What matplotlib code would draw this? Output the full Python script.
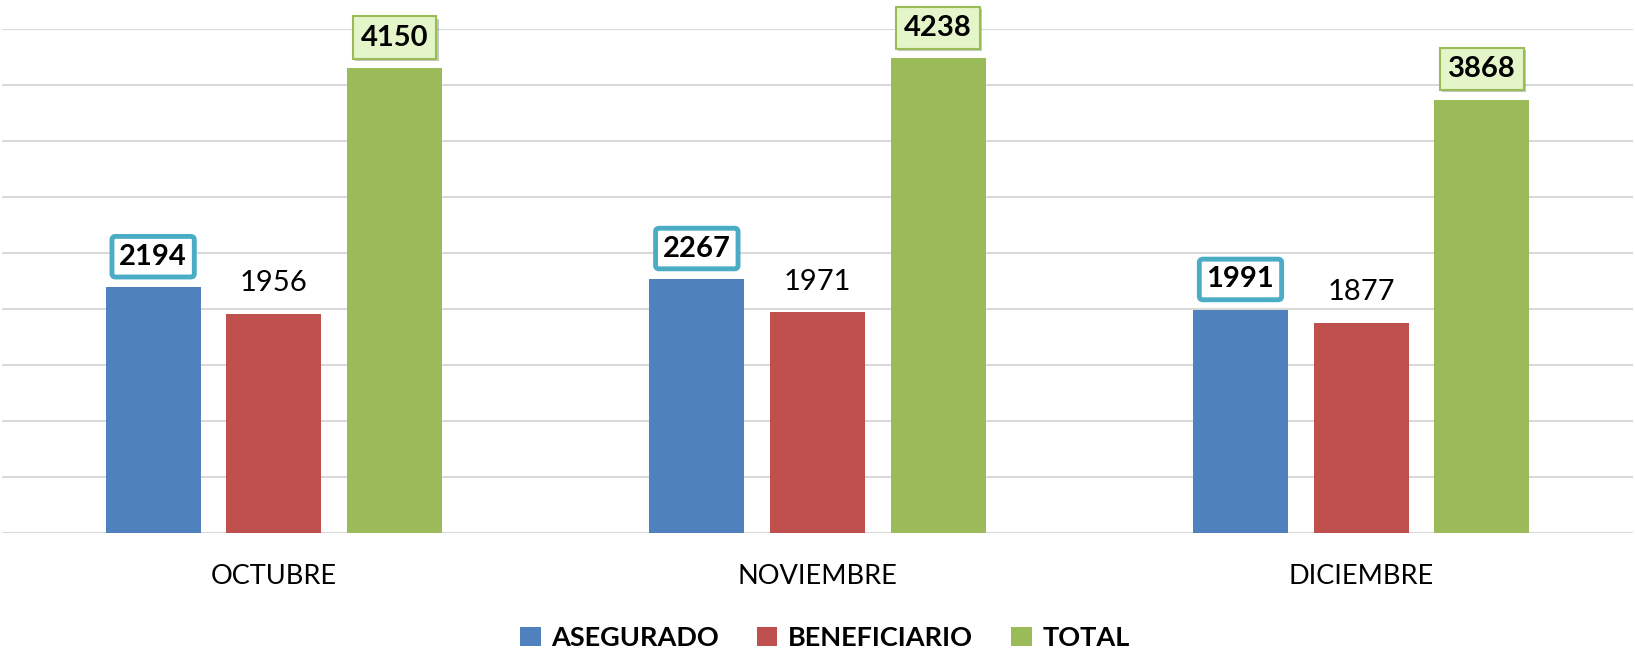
import matplotlib.pyplot as plt
import matplotlib.patheffects as pe
import numpy as np

# Datos del grafico
meses = ['OCTUBRE', 'NOVIEMBRE', 'DICIEMBRE']
asegurado = [2194, 2267, 1991]
beneficiario = [1956, 1971, 1877]
total = [4150, 4238, 3868]

plt.rcParams['font.family'] = ['Lato', 'DejaVu Sans']

fig = plt.figure(figsize=(16.35, 6.51), dpi=100)
ax = fig.add_axes([2 / 1635, 118 / 651, 1631 / 1635, 504 / 651])

x = np.arange(len(meses))
ancho = 0.175
paso = 0.222

b1 = ax.bar(x - paso, asegurado, ancho, color='#4F81BD', label='ASEGURADO', zorder=3)
b2 = ax.bar(x, beneficiario, ancho, color='#C0504D', label='BENEFICIARIO', zorder=3)
b3 = ax.bar(x + paso, total, ancho, color='#9BBB59', label='TOTAL', zorder=3)

# Etiquetas de valores
for rect, v in zip(b1, asegurado):
    ax.annotate(str(v), (rect.get_x() + rect.get_width() / 2, v),
                xytext=(0, 22), textcoords='offset points', ha='center', va='center',
                fontsize=21, fontweight='bold', annotation_clip=False,
                bbox=dict(boxstyle='round,pad=0.25,rounding_size=0.12', fc='white',
                          ec='#4BACC6', lw=3.5))

for rect, v in zip(b2, beneficiario):
    ax.annotate(str(v), (rect.get_x() + rect.get_width() / 2, v),
                xytext=(0, 22), textcoords='offset points', ha='center', va='center',
                fontsize=21, annotation_clip=False)

for rect, v in zip(b3, total):
    t = ax.annotate(str(v), (rect.get_x() + rect.get_width() / 2, v),
                    xytext=(0, 22), textcoords='offset points', ha='center', va='center',
                    fontsize=21, fontweight='bold', annotation_clip=False,
                    bbox=dict(boxstyle='square,pad=0.28', fc='#E4F5C9',
                              ec='#9BBB59', lw=1.5))
    t.get_bbox_patch().set_path_effects([pe.SimplePatchShadow(offset=(1.5, -1.5), alpha=0.3),
                                         pe.Normal()])

ax.set_xlim(-0.5, 2.5)
ax.set_ylim(0, 4500)
ax.set_yticks(np.arange(0, 4501, 500))
ax.yaxis.grid(True, color='#D9D9D9', linewidth=1.5, zorder=0)
ax.set_yticklabels([])
ax.tick_params(axis='y', length=0)
ax.set_xticks(x)
ax.set_xticklabels(meses, fontsize=19.5)
ax.tick_params(axis='x', length=0, pad=22)
for s in ax.spines.values():
    s.set_visible(False)

ax.legend(loc='center', bbox_to_anchor=(825 / 1635, 13 / 651), bbox_transform=fig.transFigure,
          ncol=3, frameon=False, handlelength=0.75, handleheight=0.75, handletextpad=0.4,
          columnspacing=1.4, prop={'size': 19.5, 'weight': 'bold'})

fig.savefig('out.png', dpi=100)
